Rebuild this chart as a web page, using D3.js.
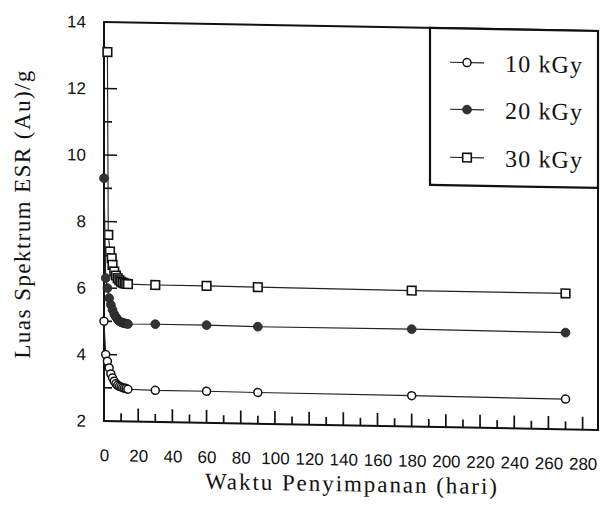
<!DOCTYPE html>
<html>
<head>
<meta charset="utf-8">
<script src="https://cdn.jsdelivr.net/npm/d3@7"></script>
<style>
  body { margin: 0; background: #fff; }
</style>
</head>
<body>
<svg id="chart" width="604" height="506"></svg>
<script>
// storage time (days) and ESR spectrum area per irradiation dose
var days = [0, 1, 2, 3, 4, 5, 6, 7, 8, 9, 10, 11, 12, 13, 14, 30, 60, 90, 180, 270];
var kgy10 = [5.0, 4.0, 3.8, 3.6, 3.42, 3.3, 3.2, 3.13, 3.08, 3.05, 3.03, 3.01, 3.0, 2.99, 2.97, 2.95, 2.95, 2.94, 2.93, 2.91];
var kgy20 = [9.3, 6.3, 6.0, 5.7, 5.5, 5.35, 5.22, 5.13, 5.06, 5.01, 4.98, 4.96, 4.95, 4.94, 4.93, 4.94, 4.94, 4.92, 4.93, 4.91];
var days30 = [2, 2.5, 3.5, 4.5, 5, 6, 7, 8, 9, 10, 11, 12, 13, 14, 30, 60, 90, 180, 270];
var kgy30 = [13.1, 7.6, 7.1, 6.9, 6.7, 6.5, 6.38, 6.3, 6.24, 6.2, 6.17, 6.15, 6.14, 6.13, 6.12, 6.12, 6.11, 6.09, 6.09];

var seriesNames = ["10 kGy", "20 kGy", "30 kGy"];
var xTickLabels = [0, 20, 40, 60, 80, 100, 120, 140, 160, 180, 200, 220, 240, 260, 280];
var xMinorTicks = [10, 30, 50, 70, 90, 110, 130, 150, 170, 190, 210, 230, 250, 270];
var yTickLabels = [2, 4, 6, 8, 10, 12, 14];
var yMinorTicks = [3, 5, 7, 9, 11, 13];

var series = [
    { name: seriesNames[2], shape: "square", x: days30, y: kgy30 },
    { name: seriesNames[1], shape: "filled", x: days, y: kgy20 },
    { name: seriesNames[0], shape: "open", x: days, y: kgy10 }
];

var pLeft = 104, pRight = 598, pTop = 22, pBottom = 421;

var x = d3.scaleLinear().domain([0, 289]).range([pLeft, pRight]);
var y = d3.scaleLinear().domain([2, 14]).range([pBottom, pTop]);

var svg = d3.select("#chart");
// the scan is slightly sheared, horizontal lines drop to the right
var g = svg.append("g")
    .attr("transform", "translate(" + pLeft + ",0) skewY(1.04) translate(" + (-pLeft) + ",0)");

function marker(sel, shape) {
    if (shape == "square") {
        sel.append("rect")
            .attr("x", -4.3).attr("y", -4.3).attr("width", 8.6).attr("height", 8.6)
            .style("fill", "#fff").style("stroke", "#111").style("stroke-width", 1.6);
    } else if (shape == "filled") {
        sel.append("circle").attr("r", 4.4)
            .style("fill", "#333").style("stroke", "#222").style("stroke-width", 0.8);
    } else {
        sel.append("circle").attr("r", 4)
            .style("fill", "#fff").style("stroke", "#111").style("stroke-width", 1.5);
    }
}

// plot frame
g.append("rect")
    .attr("x", pLeft).attr("y", pTop)
    .attr("width", pRight - pLeft).attr("height", pBottom - pTop)
    .style("fill", "none").style("stroke", "#111").style("stroke-width", 2);

// tick labels from d3 axes
g.append("g").attr("class", "axis").attr("transform", "translate(0," + pBottom + ")")
    .call(d3.axisBottom(x).tickValues(xTickLabels).tickSize(0).tickPadding(28));
g.append("g").attr("class", "axis").attr("transform", "translate(" + pLeft + ",0)")
    .call(d3.axisLeft(y).tickValues(yTickLabels).tickSize(0).tickPadding(18));
g.selectAll(".axis .domain").remove();
g.selectAll(".axis .tick text")
    .style("font-family", "'Liberation Sans', Arial, sans-serif")
    .style("font-size", "17px")
    .style("fill", "#111");

// inward tick marks, long on labelled values, short between
var tickPath = "";
xTickLabels.slice(1).forEach(function(v) { tickPath += "M" + x(v) + "," + pBottom + "V" + (pBottom - 13); });
xMinorTicks.forEach(function(v) { tickPath += "M" + x(v) + "," + pBottom + "V" + (pBottom - 8); });
yTickLabels.slice(1, -1).forEach(function(v) { tickPath += "M" + pLeft + "," + y(v) + "H" + (pLeft + 13); });
yMinorTicks.forEach(function(v) { tickPath += "M" + pLeft + "," + y(v) + "H" + (pLeft + 8); });
g.append("path")
    .attr("class", "ticks")
    .attr("d", tickPath)
    .attr("fill", "none")
    .attr("stroke", "#111")
    .attr("stroke-width", 1.7);

// lines and markers
var line = d3.line()
    .x(function(d) { return x(d[0]); })
    .y(function(d) { return y(d[1]); });

series.forEach(function(s) {
    var pts = s.x.map(function(d, i) { return [d, s.y[i]]; });
    g.append("path")
        .datum(pts)
        .attr("d", line)
        .style("fill", "none")
        .style("stroke", "#222")
        .style("stroke-width", 1.1);
    g.selectAll(".pt-" + s.shape)
        .data(pts)
        .enter().append("g")
        .attr("class", "pt-" + s.shape)
        .attr("transform", function(d) { return "translate(" + x(d[0]) + "," + y(d[1]) + ")"; })
        .each(function() { marker(d3.select(this), s.shape); });
});

// legend
var legend = g.append("g");
legend.append("rect")
    .attr("x", 430).attr("y", pTop)
    .attr("width", pRight - 430).attr("height", 157)
    .style("fill", "#fff").style("stroke", "#111").style("stroke-width", 2.2);

var legendRows = [
    { name: seriesNames[0], shape: "open", cy: 56 },
    { name: seriesNames[1], shape: "filled", cy: 103 },
    { name: seriesNames[2], shape: "square", cy: 151 }
];
legendRows.forEach(function(r) {
    legend.append("line")
        .attr("x1", 450).attr("x2", 484).attr("y1", r.cy).attr("y2", r.cy)
        .style("stroke", "#222").style("stroke-width", 1.1);
    var m = legend.append("g").attr("transform", "translate(467," + r.cy + ")");
    marker(m, r.shape);
    legend.append("text")
        .attr("x", 505).attr("y", r.cy).attr("dy", "0.35em")
        .attr("textLength", 77).attr("lengthAdjust", "spacing")
        .style("font-family", "'Liberation Serif', 'Times New Roman', serif")
        .style("font-size", "24px")
        .style("fill", "#111")
        .text(r.name);
});

// axis titles
g.append("text")
    .attr("x", 351).attr("y", 487)
    .attr("text-anchor", "middle")
    .attr("textLength", 292).attr("lengthAdjust", "spacing")
    .style("font-family", "'Liberation Serif', 'Times New Roman', serif")
    .style("font-size", "23px")
    .style("fill", "#111")
    .text("Waktu Penyimpanan (hari)");

g.append("text")
    .attr("transform", "translate(30,216) rotate(-90)")
    .attr("text-anchor", "middle")
    .attr("textLength", 288).attr("lengthAdjust", "spacing")
    .style("font-family", "'Liberation Serif', 'Times New Roman', serif")
    .style("font-size", "23px")
    .style("fill", "#111")
    .text("Luas Spektrum ESR (Au)/g");
</script>
</body>
</html>
